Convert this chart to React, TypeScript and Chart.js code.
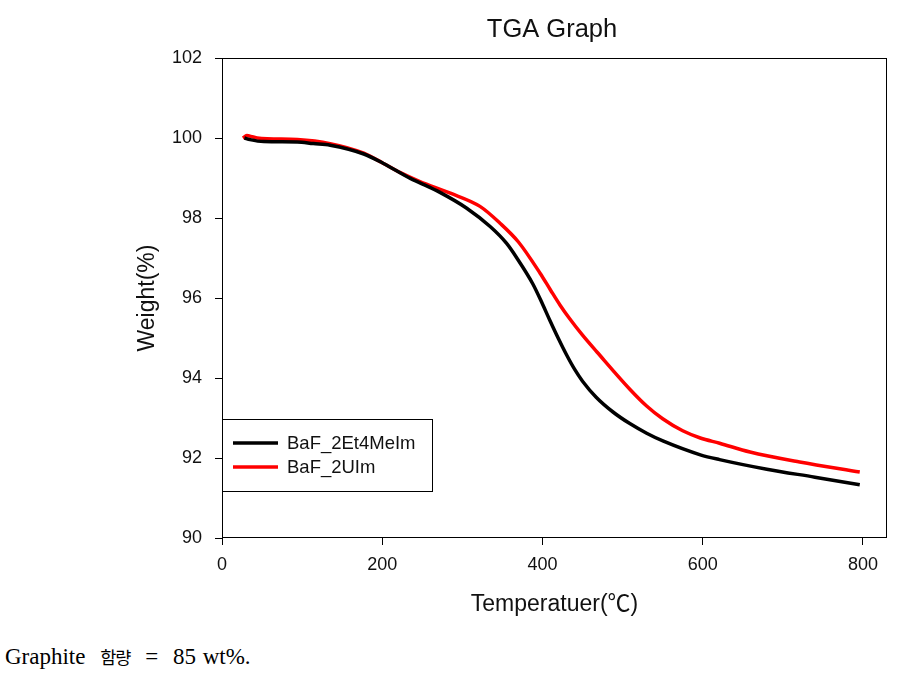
import React, { useEffect, useRef } from "react";
import { Chart, registerables } from "chart.js";

Chart.register(...registerables);

const TITLE = "TGA Graph";
const X_TITLE = "Temperatuer(℃)";
const Y_TITLE = "Weight(%)";
const SERIES_NAMES = ["BaF_2Et4MeIm", "BaF_2UIm"];
const SERIES_COLORS = ["#000000", "#ff0000"];
const X_TICKS = [0, 200, 400, 600, 800];
const Y_TICKS = [90, 92, 94, 96, 98, 100, 102];
const X_MIN = 0;
const X_MAX = 830;
const Y_MIN = 90;
const Y_MAX = 102;

const T_BLACK = [28, 35, 52, 94, 114, 135, 177, 201, 235, 247, 272, 305, 335, 355, 368, 388, 400, 409, 420, 430, 440, 450, 467, 488, 509, 530, 551, 597, 621, 680, 740, 796];
const W_BLACK = [100.0, 99.96, 99.91, 99.9, 99.86, 99.82, 99.6, 99.37, 98.99, 98.88, 98.64, 98.25, 97.78, 97.37, 97.0, 96.35, 95.85, 95.45, 94.98, 94.58, 94.22, 93.92, 93.52, 93.15, 92.86, 92.62, 92.42, 92.08, 91.96, 91.72, 91.52, 91.33];

const T_RED = [26, 31, 38, 44, 94, 135, 177, 201, 222, 247, 285, 322, 347, 370, 397, 410, 422, 434, 450, 468, 509, 530, 550, 575, 597, 621, 659, 721, 796];
const W_RED = [100.0, 100.06, 100.03, 100.0, 99.96, 99.86, 99.62, 99.37, 99.14, 98.91, 98.62, 98.29, 97.87, 97.4, 96.62, 96.2, 95.82, 95.48, 95.07, 94.65, 93.72, 93.3, 92.98, 92.68, 92.5, 92.37, 92.15, 91.9, 91.65];

const NOTE_WORDS = ["Graphite", "함량", "=", "85", "wt%."];

const FONT = "'Liberation Sans', Arial, 'Noto Sans CJK KR', sans-serif";

const framePlugin = {
  id: "frame",
  afterDatasetsDraw(chart: any) {
    const { ctx, chartArea } = chart;
    const l = Math.round(chartArea.left);
    const t = Math.round(chartArea.top);
    const r = Math.round(chartArea.right);
    const b = Math.round(chartArea.bottom);
    ctx.save();
    ctx.strokeStyle = "#000";
    ctx.lineWidth = 1;
    ctx.strokeRect(l + 0.5, t + 0.5, r - l - 1, b - t - 1);
    ctx.restore();
  },
};

const titlePlugin = {
  id: "centerTitle",
  afterDraw(chart: any) {
    const { ctx } = chart;
    ctx.save();
    ctx.fillStyle = "#111";
    ctx.font = `25.5px ${FONT}`;
    ctx.textAlign = "center";
    ctx.textBaseline = "alphabetic";
    ctx.fillText(TITLE, 552, 37);
    ctx.restore();
  },
};

const boxLegendPlugin = {
  id: "boxLegend",
  afterDraw(chart: any) {
    const { ctx, chartArea } = chart;
    const x0 = Math.round(chartArea.left);
    const y0 = 419;
    const w = 210;
    const h = 72;
    ctx.save();
    ctx.fillStyle = "#fff";
    ctx.fillRect(x0 + 1, y0, w - 1, h);
    ctx.strokeStyle = "#000";
    ctx.lineWidth = 1;
    ctx.strokeRect(x0 + 0.5, y0 + 0.5, w, h);
    ctx.font = `18.5px ${FONT}`;
    ctx.textBaseline = "middle";
    ctx.textAlign = "left";
    chart.data.datasets.forEach((ds: any, i: number) => {
      const y = 443 + i * 24;
      ctx.strokeStyle = ds.borderColor;
      ctx.lineWidth = 3.5;
      ctx.beginPath();
      ctx.moveTo(x0 + 11, y);
      ctx.lineTo(x0 + 56, y);
      ctx.stroke();
      ctx.fillStyle = "#111";
      ctx.fillText(ds.label, x0 + 65, y + 1);
    });
    ctx.restore();
  },
};

export default function App() {
  const canvasRef = useRef<HTMLCanvasElement | null>(null);

  useEffect(() => {
    const canvas = canvasRef.current;
    if (!canvas) return;
    const chart = new Chart(canvas, {
      type: "line",
      data: {
        datasets: [
          {
            label: SERIES_NAMES[0],
            data: T_BLACK.map((t, i) => ({ x: t, y: W_BLACK[i] })),
            borderColor: SERIES_COLORS[0],
            backgroundColor: SERIES_COLORS[0],
            borderWidth: 3.5,
            pointRadius: 0,
            cubicInterpolationMode: "monotone",
            fill: false,
          },
          {
            label: SERIES_NAMES[1],
            data: T_RED.map((t, i) => ({ x: t, y: W_RED[i] })),
            borderColor: SERIES_COLORS[1],
            backgroundColor: SERIES_COLORS[1],
            borderWidth: 3.5,
            pointRadius: 0,
            cubicInterpolationMode: "monotone",
            fill: false,
          },
        ],
      },
      options: {
        responsive: false,
        animation: false,
        devicePixelRatio: 1,
        layout: { padding: { left: 0, right: 16, top: 58, bottom: 0 } },
        plugins: {
          legend: { display: false },
          tooltip: { enabled: false },
          title: { display: false },
        },
        scales: {
          x: {
            type: "linear",
            min: X_MIN,
            max: X_MAX,
            ticks: {
              stepSize: 200,
              includeBounds: false,
              color: "#111",
              font: { family: FONT, size: 18 },
              padding: 9,
              maxRotation: 0,
            },
            afterBuildTicks: (scale: any) => {
              scale.ticks = X_TICKS.map((v) => ({ value: v }));
            },
            afterFit: (scale: any) => {
              scale.height = 87;
            },
            grid: { display: true, drawOnChartArea: false, drawTicks: true, tickLength: 7, color: "#000", lineWidth: 1 },
            border: { display: false },
            title: {
              display: true,
              text: X_TITLE,
              color: "#111",
              font: { family: FONT, size: 23 },
              padding: { top: 0, bottom: 6.5 },
            },
          },
          y: {
            type: "linear",
            min: Y_MIN,
            max: Y_MAX,
            ticks: {
              stepSize: 2,
              color: "#111",
              font: { family: FONT, size: 18 },
              padding: 13,
            },
            afterBuildTicks: (scale: any) => {
              scale.ticks = Y_TICKS.map((v) => ({ value: v }));
            },
            afterFit: (scale: any) => {
              scale.width = 222;
            },
            grid: { display: true, drawOnChartArea: false, drawTicks: true, tickLength: 7, color: "#000", lineWidth: 1 },
            border: { display: false },
            title: {
              display: true,
              text: Y_TITLE,
              color: "#111",
              font: { family: FONT, size: 23 },
              padding: { top: 133.5, bottom: 0 },
            },
          },
        },
      },
      plugins: [framePlugin, titlePlugin, boxLegendPlugin],
    } as any);
    return () => chart.destroy();
  }, []);

  return (
    <div style={{ position: "absolute", left: 0, top: 0, width: 903, height: 681 }}>
      <div style={{ position: "absolute", left: 0, top: 0, width: 903, height: 625 }}>
        <canvas ref={canvasRef} width={903} height={625} style={{ width: 903, height: 625, display: "block" }} />
      </div>
      <div
        style={{
          position: "absolute",
          left: 5,
          top: 645,
          fontFamily: "'Liberation Serif', 'Times New Roman', serif",
          fontSize: 23,
          lineHeight: 1,
          color: "#000",
          whiteSpace: "nowrap",
          wordSpacing: 9,
        }}
      >
        {NOTE_WORDS[0]} <span style={{ fontFamily: "'Noto Sans CJK KR', sans-serif", fontSize: 17.5, letterSpacing: -1 }}>{NOTE_WORDS[1]}</span> {NOTE_WORDS[2]} {NOTE_WORDS[3]}<span style={{ wordSpacing: 1 }}> </span>{NOTE_WORDS[4]}
      </div>
    </div>
  );
}
